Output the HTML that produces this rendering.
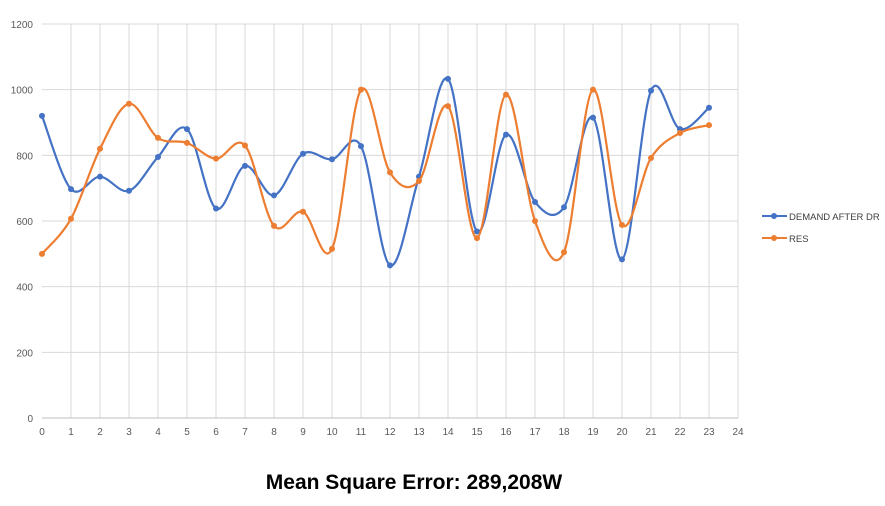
<!DOCTYPE html>
<html><head><meta charset="utf-8"><style>
body{margin:0;background:#fff;width:885px;height:501px;overflow:hidden;font-family:"Liberation Sans",sans-serif}
</style></head><body>
<svg id="chart" width="885" height="501" xmlns="http://www.w3.org/2000/svg">
<g id="grid"></g>
<g id="axes"></g>
<g id="series"></g>
<g>
<g>
<line x1="762" y1="216" x2="787" y2="216" stroke="#4472C4" stroke-width="2"/><circle cx="774" cy="216" r="3" fill="#4472C4"/>
<text x="789" y="220" font-size="9.5" fill="#404040">DEMAND AFTER DR</text></g>
<g>
<line x1="762" y1="238" x2="787" y2="238" stroke="#ED7D31" stroke-width="2"/><circle cx="774" cy="238" r="3" fill="#ED7D31"/>
<text x="789" y="242" font-size="9.5" fill="#404040">RES</text></g>
</g>
<text x="414" y="489" text-anchor="middle" font-size="21" font-weight="bold" fill="#000">Mean Square Error: 289,208W</text>
</svg>
<script>
const hours=[0,1,2,3,4,5,6,7,8,9,10,11,12,13,14,15,16,17,18,19,20,21,22,23];
const demand=[920,697,735,692,795,880,638,768,678,805,788,828,465,735,1033,568,863,658,642,915,483,997,880,945];
const res=[500,607,820,957,853,838,790,830,585,628,515,1000,748,722,950,548,985,600,505,1000,588,792,868,892];
const yTicks=[0,200,400,600,800,1000,1200];
const xTicks=[0,1,2,3,4,5,6,7,8,9,10,11,12,13,14,15,16,17,18,19,20,21,22,23,24];
const NS='http://www.w3.org/2000/svg';
const X=v=>42+v*29, Y=v=>418-v*394/1200;
function mk(tag,attrs,parent,txt){const e=document.createElementNS(NS,tag);for(const k in attrs)e.setAttribute(k,attrs[k]);if(txt!==undefined)e.textContent=txt;parent.appendChild(e);return e;}
const grid=document.getElementById('grid'),axes=document.getElementById('axes'),ser=document.getElementById('series');
yTicks.forEach(t=>{
 if(t>0){const l=mk('line',{x1:X(0),x2:X(24),y1:Y(t),y2:Y(t),stroke:'#d9d9d9','stroke-width':1},grid);
 
 }
 const tx=mk('text',{x:33,y:Y(t)+4,'text-anchor':'end','font-size':10,fill:'#595959'},axes,String(t));
 
 
});
xTicks.forEach(t=>{
 if(t>0){const l=mk('line',{x1:X(t),x2:X(t),y1:Y(0),y2:Y(1200),stroke:'#d9d9d9','stroke-width':1},grid);
 
 }
 const tx=mk('text',{x:X(t),y:435,'text-anchor':'middle','font-size':10,fill:'#595959'},axes,String(t));
 
 
});
const ax=mk('line',{x1:X(0),x2:X(24),y1:Y(0),y2:Y(0),stroke:'#bfbfbf','stroke-width':1},axes);


function smooth(pts){let d=`M${pts[0][0]},${pts[0][1]}`;for(let i=0;i<pts.length-1;i++){const p0=pts[i-1]||pts[i],p1=pts[i],p2=pts[i+1],p3=pts[i+2]||p2;const t=6;
 d+=` C${p1[0]+(p2[0]-p0[0])/t},${p1[1]+(p2[1]-p0[1])/t} ${p2[0]-(p3[0]-p1[0])/t},${p2[1]-(p3[1]-p1[1])/t} ${p2[0]},${p2[1]}`;}return d;}
function draw(vals,color,name){
 const pts=hours.map((h,i)=>[X(h),Y(vals[i])]);
 const p=mk('path',{d:smooth(pts),fill:'none',stroke:color,'stroke-width':2.2},ser);
 
 
 pts.forEach(q=>{const c=mk('circle',{cx:q[0],cy:q[1],r:3,fill:color},ser);
 
 });
}
draw(demand,'#4472C4','demand');
draw(res,'#ED7D31','res');
</script>
</body></html>
